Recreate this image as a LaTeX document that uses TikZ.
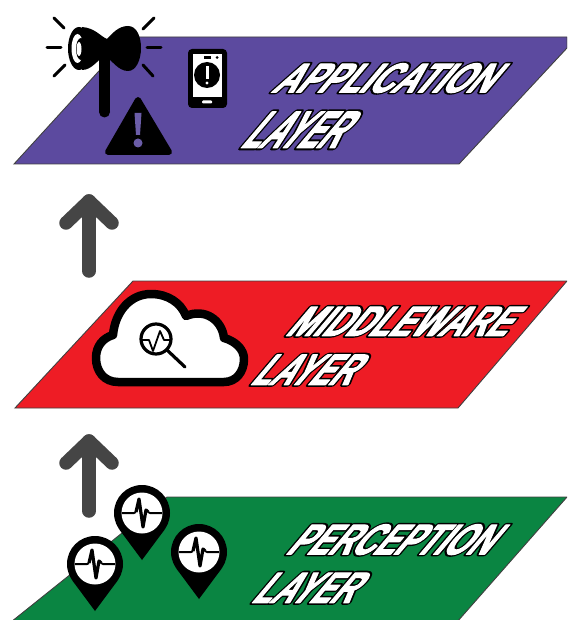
\documentclass[tikz,border=0pt]{standalone}
\usepackage{graphicx}
\usepackage{fontspec}
\setmainfont{Liberation Sans}
\newfontfamily\labelfont[FakeStretch=0.6]{Liberation Sans Bold}
\definecolor{appcol}{HTML}{5C4A9F}
\definecolor{midcol}{HTML}{EE1C25}
\definecolor{percol}{HTML}{0A8542}
\definecolor{arrowcol}{HTML}{454545}
\definecolor{markcol}{HTML}{6B5DA8}
\newcommand{\outlined}[3]{\resizebox{#1}{#2}{\labelfont\color{white}%
  \rlap{\special{pdf:code 2 Tr 0.95 w 1 j 0 0 0 RG}#3}%
  \special{pdf:code 2 Tr 0.25 w 1 j 1 1 1 RG}#3\special{pdf:code 0 Tr}}}
\newcommand{\pinicon}[2]{%
  \begin{scope}[shift={(#1,#2)}]
    \fill[black] (0,0) circle[radius=28];
    \fill[black] (-22.5,16.7) -- (0,47) -- (22.5,16.7) -- cycle;
    \fill[white] (0,0) circle[radius=20.5];
    \draw[black,line width=2pt,line join=round] (-20,0) -- (-8,0) -- (-6,-1);
    \draw[black,line width=2pt,line join=round] (6,-1) -- (8,0) -- (20,0);
    \draw[black,line width=3.2pt,line join=round] (-6,-1) -- (-3,-14) -- (1,14) -- (4,-3) -- (6,-1);
  \end{scope}}
\tikzset{
  x=1pt,y=-1pt,
  layerplate/.style={draw=black!75,line width=0.9pt,line join=miter},
  uparrow/.style={draw=arrowcol,line width=13.5pt,line cap=round,line join=round},
  ray/.style={draw=black,line width=3pt,line cap=round},
  layertext/.style={anchor=south west,inner sep=0pt,xslant=0.85,transform shape},
}
\begin{document}
\begin{tikzpicture}
\useasboundingbox (0,0) rectangle (567,620);
\begin{scope}
\clip (0,0) rectangle (567,620);
% plates
\draw[layerplate,fill=appcol] (130,37) -- (567,37) -- (567,48) -- (459,164) -- (14,164) -- cycle;
\draw[layerplate,fill=midcol] (133,281) -- (567,281) -- (458,408) -- (15,408) -- cycle;
\draw[layerplate,fill=percol] (167,497) -- (567,497) -- (457,622) -- (11,622) -- cycle;
\end{scope}
% arrows
\coordinate (a1tip) at (89,201);
\coordinate (a1base) at (89,271);
\coordinate (a1l) at (66,223);
\coordinate (a1r) at (112,223);
\draw[uparrow] (a1base) -- (a1tip);
\draw[uparrow] (a1l) -- (a1tip) -- (a1r);
\coordinate (a2tip) at (89,441);
\coordinate (a2base) at (89,511);
\coordinate (a2l) at (66,463);
\coordinate (a2r) at (112,463);
\draw[uparrow] (a2base) -- (a2tip);
\draw[uparrow] (a2l) -- (a2tip) -- (a2r);
% megaphone
\draw[ray] (54,18) -- (64,28);
\draw[ray] (47,48) -- (61,48);
\draw[ray] (54,76) -- (65,65);
\draw[ray] (143,29) -- (154,18);
\draw[ray] (147,48) -- (161,48);
\draw[ray] (143,65) -- (153,76);
\fill[black] (82,27) .. controls (95,28) and (100,36) .. (107,39) .. controls (112,34) and (118,26) .. (128,26) .. controls (137,26) and (141,37) .. (141,48) .. controls (141,60) and (136,71) .. (128,71) .. controls (118,71) and (112,60) .. (105,56) .. controls (97,60) and (92,70) .. (82,70) -- cycle;
\fill[black] (99,50) rectangle (110,112);
\fill[black] (104.5,112) circle[radius=5.5];
\fill[black] (79,48.5) ellipse[x radius=11,y radius=21.5];
\fill[white] (77.5,48.5) ellipse[x radius=6,y radius=14.5];
\fill[black] (81,49) ellipse[x radius=5,y radius=11];
\fill[white] (79,49) ellipse[x radius=2.5,y radius=7];
% warning sign
\draw[black,fill=black,line width=6pt,line join=round] (138,100) -- (169,152) -- (108,152) -- cycle;
\fill[markcol] (134.5,113) -- (141.5,113) -- (140,135) -- (136,135) -- cycle;
\fill[markcol] (138,143) circle[radius=4.5];
% phone
\fill[black,rounded corners=4pt] (188,49) rectangle (227,108);
\fill[white] (193,54) rectangle (222,97);
\fill[black] (207,75) circle[radius=13];
\fill[white] (205.5,66) rectangle (208.5,79);
\fill[white] (207,83) circle[radius=1.7];
\fill[black] (204,56) rectangle (211,59);
\fill[black] (217,57.5) circle[radius=1.5];
\fill[white,rounded corners=1pt] (202,100.5) rectangle (212,103.5);
% cloud
\draw[black,fill=white,line width=8.5pt,line join=round] (118,382) .. controls (104,382) and (96,371) .. (96,358) .. controls (96,346) and (103,338) .. (113,335) .. controls (115,312) and (130,294) .. (151,294) .. controls (168,294) and (181,303) .. (186,316) .. controls (205,308) and (222,320) .. (224,338) .. controls (235,341) and (244,349) .. (244,359) .. controls (244,372) and (236,382) .. (224,382) -- cycle;
\draw[black,line width=3.2pt] (156,339) circle[radius=15];
\draw[black,line width=3.2pt,line cap=round] (167,350) -- (185,367);
\draw[black,line width=1.8pt,line join=round] (142,340) -- (149,340) -- (153,351) -- (160,331) -- (164,340) -- (170,340);
% pins
\pinicon{142}{513}
\pinicon{95}{564}
\pinicon{199}{552}
% labels
\node[layertext] (applabel) at (270,93) {\outlined{217pt}{29pt}{APPLICATION}};
\node[layertext] (applayer) at (239,148) {\outlined{96pt}{36pt}{LAYER}};
\node[layertext] (midlabel) at (284,336) {\outlined{220pt}{29pt}{MIDDLEWARE}};
\node[layertext] (midlayer) at (249,385) {\outlined{99pt}{30pt}{LAYER}};
\node[layertext] (perlabel) at (284,555) {\outlined{202pt}{30pt}{PERCEPTION}};
\node[layertext] (perlayer) at (250,603) {\outlined{99pt}{30pt}{LAYER}};
\end{tikzpicture}
\end{document}
